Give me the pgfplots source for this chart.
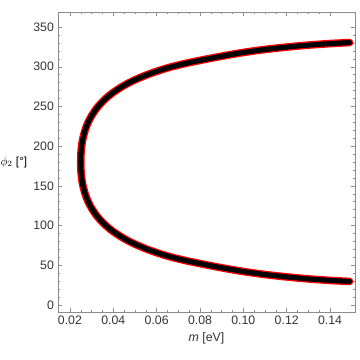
\documentclass[border=0pt]{standalone}
\usepackage{fontspec}
\setmainfont{Liberation Sans}
\usepackage{pgfplots}
\pgfplotsset{compat=1.18}

% lower and upper branch of phi_2 vs m
\newcommand{\phicurve}{
(0.149,29.5) (0.140,30.8) (0.130,32.7) (0.120,35.2) (0.110,38.2)
(0.100,42) (0.090,46.7) (0.080,52) (0.073,56) (0.066,60.7)
(0.060,65.8) (0.055,70.7) (0.050,76.5) (0.046,82.0) (0.043,86.8)
(0.040,92.3) (0.038,96.5) (0.036,101.35) (0.034,106.9) (0.032,113.5)
(0.030,121.7) (0.029,126.7) (0.028,132.6) (0.027,140.0) (0.026,150.2)
(0.0255,157.9) (0.0252,165.1) (0.02505,171.9) (0.0250,180)
(0.02505,188.1) (0.0252,194.9) (0.0255,202.1) (0.026,209.8) (0.027,220.0)
(0.028,227.4) (0.029,233.3) (0.030,238.3) (0.032,246.5) (0.034,253.1)
(0.036,258.65) (0.038,263.5) (0.040,267.7) (0.043,273.2) (0.046,278.0)
(0.050,283.5) (0.055,289.3) (0.060,294.2) (0.066,299.3) (0.073,304)
(0.080,308) (0.090,313.3) (0.100,318) (0.110,321.8) (0.120,324.8)
(0.130,327.3) (0.140,329.2) (0.149,330.5)
}

\begin{document}
\begin{tikzpicture}
\useasboundingbox (-1.74cm,-1.44cm) rectangle (9.06cm,9.36cm);
\begin{axis}[
    at={(0,0)}, anchor=south west,
    scale only axis,
    width=8.91cm, height=9cm,
    xmin=0.0145, xmax=0.1515,
    ymin=-9, ymax=369,
    xtick={0.02,0.04,...,0.14},
    ytick={0,50,...,350},
    minor x tick num=3,
    minor y tick num=4,
    tick align=inside,
    major tick length=0.12cm,
    minor tick length=0.07cm,
    axis line style={black!45},
    every tick/.style={black!45},
    tick label style={font=\fontsize{10.5}{12}\selectfont, text=black!80},
    /pgf/number format/assume math mode=true,
    x tick label style={/pgf/number format/.cd, fixed, fixed zerofill, precision=2},
    scaled x ticks=false,
    xlabel={\textit{m} [eV]},
    ylabel={$\phi_2$ [°]},
    label style={font=\fontsize{10.5}{12}\selectfont, text=black!80},
    every axis y label/.style={at={(axis description cs:0,0.5)}, anchor=east, xshift=-0.8cm},
    clip=true,
]
\addplot[red, line width=6.5pt, line join=round, line cap=round, smooth] coordinates {\phicurve};
\addplot[black, line width=4.3pt, line join=round, line cap=round, smooth] coordinates {\phicurve};
\end{axis}
\end{tikzpicture}
\end{document}
